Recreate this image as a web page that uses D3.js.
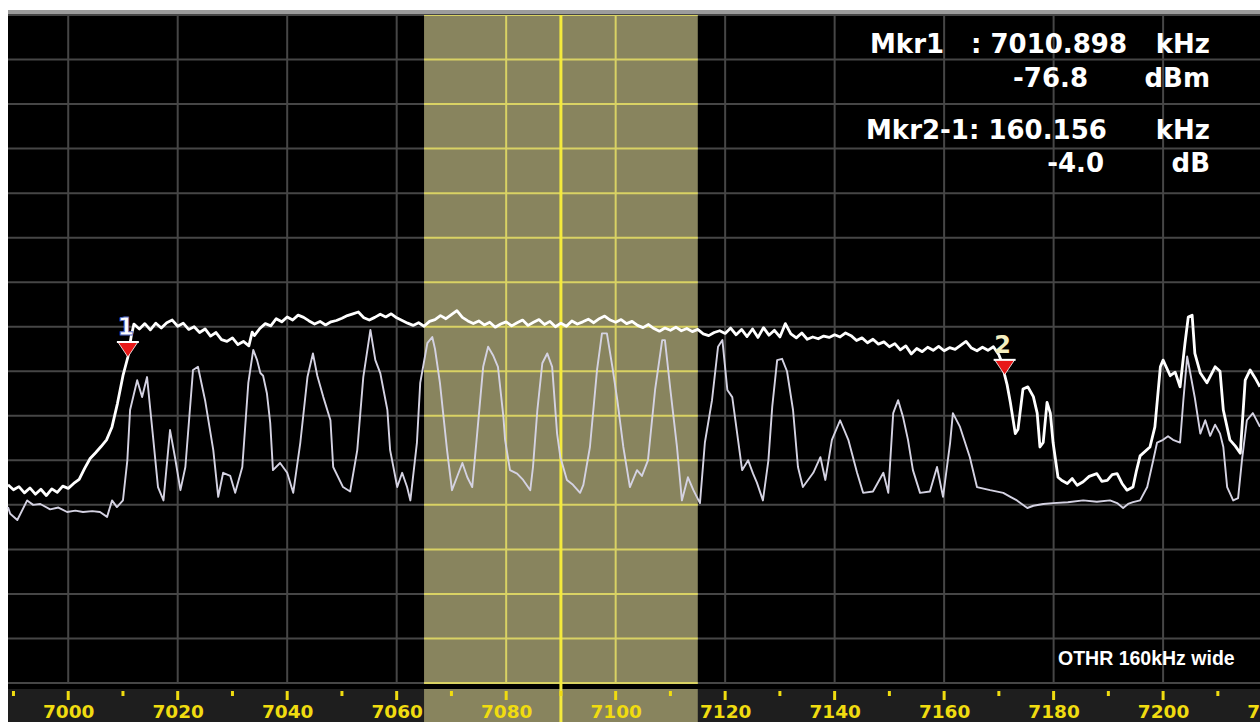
<!DOCTYPE html>
<html>
<head>
<meta charset="utf-8">
<script src="https://cdn.jsdelivr.net/npm/d3@7"></script>
<style>
  html, body { margin: 0; padding: 0; background: #fff; overflow: hidden; }
  svg { display: block; }
</style>
</head>
<body>
<svg id="chart"></svg>
<script>
// peak hold trace (kHz, dBm)
const peakTrace = [
  [6989,-105.5],[6990,-106.6],[6991,-105.9],[6992,-107.3],[6993,-106.2],[6994,-107.6],[6995,-106.5],[6996,-107.9],
  [6997,-106.4],[6998,-107.2],[6999,-105.8],[7000,-106.3],[7001,-105.2],[7002,-104.3],[7003,-101.8],[7004,-99.6],
  [7005,-98.3],[7006,-96.9],[7007,-95.4],[7008,-92.5],[7009,-87.2],[7010,-81.0],[7010.9,-76.8],[7011.5,-72.2],
  [7012,-69.4],[7013,-70.5],[7014,-69.3],[7015,-70.7],[7016,-69.2],[7017,-70.3],[7018,-69.1],[7019,-68.5],
  [7020,-69.9],[7021,-69.2],[7022,-70.6],[7023,-70.0],[7024,-71.3],[7025,-70.5],[7026,-72.1],[7027,-71.3],
  [7028,-72.9],[7029,-73.3],[7030,-72.5],[7031,-74.0],[7032,-73.3],[7033,-74.3],[7033.6,-71.2],[7034,-72.0],
  [7035,-70.4],[7036,-69.3],[7037,-69.8],[7038,-68.2],[7039,-68.9],[7040,-67.8],[7041,-68.5],[7042,-67.4],
  [7043,-67.9],[7044,-68.7],[7045,-69.4],[7046,-68.8],[7047,-69.6],[7048,-68.9],[7049,-68.6],[7050,-68.1],
  [7051,-67.5],[7052,-67.1],[7053,-66.7],[7054,-68.0],[7055,-68.5],[7056,-67.9],[7057,-67.2],[7058,-67.8],
  [7059,-67.1],[7060,-68.0],[7061,-68.6],[7062,-69.2],[7063,-69.7],[7064,-69.1],[7065,-69.9],[7066,-68.8],
  [7067,-68.4],[7068,-67.5],[7069,-68.2],[7070,-67.3],[7071,-66.4],[7072,-67.9],[7073,-68.7],[7074,-69.3],
  [7075,-68.7],[7076,-69.6],[7077,-69.0],[7078,-70.1],[7079,-69.4],[7080,-68.9],[7081,-69.8],[7082,-69.1],
  [7083,-68.5],[7084,-69.7],[7085,-69.0],[7086,-68.4],[7087,-69.5],[7088,-68.8],[7089,-70.0],[7090,-69.2],
  [7091,-69.9],[7092,-68.7],[7093,-69.4],[7094,-68.9],[7095,-68.3],[7096,-69.1],[7097,-68.2],[7098,-67.6],
  [7099,-68.5],[7100,-69.0],[7101,-68.4],[7102,-69.3],[7103,-68.8],[7104,-69.7],[7105,-70.2],[7106,-69.5],
  [7107,-70.4],[7108,-71.0],[7109,-70.3],[7110,-70.8],[7111,-70.1],[7112,-70.9],[7113,-70.4],[7114,-71.1],
  [7115,-70.6],[7116,-71.6],[7117,-72.0],[7118,-71.3],[7119,-70.9],[7120,-71.5],[7121,-70.3],[7122,-71.8],
  [7123,-70.6],[7124,-72.2],[7125,-70.5],[7126,-72.4],[7127,-70.2],[7128,-71.9],[7129,-70.8],[7130,-72.3],
  [7131,-69.3],[7132,-71.6],[7133,-72.5],[7134,-71.4],[7135,-72.8],[7136,-72.3],[7137,-72.7],[7138,-72.1],
  [7139,-72.4],[7140,-71.8],[7141,-72.3],[7142,-71.4],[7143,-72.0],[7144,-73.1],[7145,-72.5],[7146,-73.6],
  [7147,-72.8],[7148,-73.9],[7149,-73.4],[7150,-74.5],[7151,-73.8],[7152,-75.2],[7153,-74.3],[7154,-76.1],
  [7155,-74.9],[7156,-75.6],[7157,-74.6],[7158,-75.3],[7159,-74.4],[7160,-75.4],[7161,-74.7],[7162,-75.1],
  [7163,-74.2],[7164,-73.3],[7165,-74.8],[7166,-75.4],[7167,-74.6],[7168,-75.3],[7169,-74.5],[7170,-76.3],
  [7170.6,-78.2],[7171.05,-80.8],[7171.5,-83.0],[7172.1,-87.0],[7173,-94.0],[7173.5,-93.0],[7174.4,-84.0],
  [7175.3,-83.5],[7176.3,-85.7],[7177,-89.4],[7177.5,-97.0],[7178.1,-96.0],[7178.8,-87.0],[7179.4,-89.4],
  [7179.9,-96.0],[7180.8,-103.8],[7181.6,-104.6],[7182.5,-105.2],[7183.4,-104.1],[7184.3,-105.6],[7185.4,-104.8],
  [7186.5,-103.6],[7187.9,-103.0],[7188.8,-104.7],[7189.8,-104.5],[7190.7,-103.2],[7191.6,-103.0],[7192.5,-105.2],
  [7193.4,-106.7],[7194.5,-106.0],[7195.1,-102.5],[7195.8,-99.0],[7197.6,-97.0],[7198.5,-92.5],[7199.5,-79.0],
  [7200,-77.5],[7201.3,-81.0],[7202.2,-80.2],[7203.1,-83.5],[7204,-73.7],[7204.6,-67.8],[7205.3,-67.4],
  [7205.8,-76.0],[7206.8,-80.4],[7208,-82.6],[7209.5,-79.0],[7210.4,-80.0],[7211,-88.7],[7212.2,-95.4],
  [7213.2,-96.8],[7214.1,-98.4],[7215,-82.0],[7215.9,-79.7],[7216.8,-81.5],[7217.7,-83.5]
];

// live sweep trace (kHz, dBm)
const liveTrace = [
  [6989.0,-110.5],[6989.4,-112],[6990.7,-113.4],[6992.5,-109],[6993.6,-110],[6994.9,-109.8],[6996.7,-111],
  [6998.2,-110.6],[6999.8,-111.6],[7001.3,-111.3],[7002.7,-111.6],[7004.4,-111.4],[7005.8,-111.6],[7007.1,-112.7],
  [7008,-109],[7008.9,-110.5],[7010,-109],[7010.8,-100],[7011.3,-88.7],[7012.6,-82],[7013.5,-85.8],[7014.4,-81.3],
  [7015.5,-94.8],[7016.4,-106],[7017.4,-109],[7018.6,-93.2],[7019.5,-99.3],[7020.5,-106.7],[7021.4,-101.5],
  [7022.8,-79.7],[7023.7,-79],[7025,-86.5],[7026.5,-97.7],[7027.4,-108.2],[7028.3,-102.8],[7029.6,-103.5],
  [7030.5,-107.3],[7031.8,-101.5],[7032.9,-82.6],[7033.8,-75.2],[7034.5,-77.5],[7035.1,-80.4],[7035.6,-81],
  [7036.3,-85],[7036.9,-91.6],[7037.4,-102.2],[7038.7,-100.6],[7040,-102.8],[7041.1,-107.3],[7042.4,-96],
  [7043.7,-81.3],[7044.7,-76],[7045.5,-81],[7046.6,-85.8],[7047.9,-91],[7048.4,-101.5],[7050.2,-106],
  [7051.5,-107],[7052.8,-97.7],[7053.9,-81.3],[7055.2,-70.7],[7056.1,-77.5],[7057,-80.4],[7058.3,-88.7],
  [7058.8,-97.7],[7060.1,-106],[7061,-102.8],[7061.9,-106],[7062.5,-109],[7063.7,-96],[7064.3,-82.6],
  [7065.6,-73.7],[7066.5,-72.3],[7067,-75],[7067.9,-82.6],[7069.2,-97.7],[7070.1,-106.7],[7071,-103.8],
  [7072,-100.6],[7072.9,-103.8],[7073.8,-106],[7074.7,-94],[7075.8,-79],[7076.7,-74.5],[7077.6,-76.4],
  [7078.5,-79],[7079.5,-90.3],[7079.8,-95.4],[7080.7,-102.2],[7082,-103],[7083.1,-104.4],[7084.4,-106.7],
  [7084.9,-101.5],[7085.7,-88.7],[7086.6,-78.2],[7087.5,-76],[7088.4,-79],[7089.3,-94],[7089.9,-99.3],
  [7091.1,-104.4],[7092.2,-105.5],[7093.5,-107.3],[7094.1,-105.5],[7095.3,-97],[7096.6,-79.7],[7097.5,-71.5],
  [7098.4,-71.5],[7099.4,-79],[7100.3,-86.5],[7101.4,-97],[7102.6,-106],[7103.9,-102.2],[7104.8,-103.5],
  [7105.9,-100],[7107.2,-84.2],[7108.5,-73],[7109,-73],[7110,-84.2],[7111.2,-97],[7112.1,-109],[7113.2,-103.8],
  [7114.2,-106.7],[7115.4,-109.6],[7116.3,-96],[7117.6,-86.5],[7118.7,-74.5],[7119.5,-73],[7120.4,-84.2],
  [7121.3,-85.8],[7122.2,-94],[7123.1,-102.2],[7124.2,-100],[7125.1,-103],[7125.8,-105],[7126.9,-109],
  [7127.9,-100],[7128.6,-88],[7129.5,-77.5],[7130.4,-77.2],[7131.3,-80],[7132.4,-88.7],[7133.3,-101.5],
  [7134.2,-106],[7136.1,-102.8],[7137.4,-99.3],[7138.3,-104.4],[7139.5,-95.4],[7141,-91],[7142.5,-95.4],
  [7144.1,-102.8],[7145.2,-107.3],[7147,-107],[7148.9,-102.8],[7149.8,-107.3],[7150.7,-89.4],[7151.6,-86.5],
  [7152.5,-90.3],[7153.4,-95.4],[7154.3,-102.2],[7155.6,-107.3],[7157.4,-107],[7158.7,-101.5],[7159.8,-108.2],
  [7161.1,-96],[7161.6,-89.4],[7162.9,-92.5],[7164.7,-99.3],[7166,-106],[7168.4,-106.7],[7170.8,-107.3],
  [7172.1,-108.2],[7173.3,-109],[7175.2,-110.7],[7176.3,-110.2],[7178.1,-109.8],[7179.9,-109.6],[7182.6,-109.4],
  [7185.4,-109],[7187.9,-109.3],[7190.3,-109],[7191.6,-109.6],[7192.7,-110.7],[7193.6,-109.8],[7194.5,-109.4],
  [7195.8,-109],[7197.1,-106],[7198.2,-100],[7198.9,-96],[7200,-95.4],[7200.9,-94.6],[7201.8,-95.4],
  [7203.1,-96],[7203.7,-86.5],[7204.4,-76.7],[7204.9,-80],[7205.8,-86],[7206.8,-94],[7207.7,-91],[7208.6,-94.5],
  [7209.5,-92],[7210.4,-94],[7211,-97],[7211.7,-106],[7212.8,-109],[7213.7,-108.5],[7214.4,-100],[7215.3,-91],
  [7216.4,-89.4],[7217.7,-92.5]
];

const freqTicks = [7000, 7020, 7040, 7060, 7080, 7100, 7120, 7140, 7160, 7180, 7200, 7220];
const minorTicks = [6990, 7010, 7030, 7050, 7070, 7090, 7110, 7130, 7150, 7170, 7190, 7210];
const levelTicks = [0, -10, -20, -30, -40, -50, -60, -70, -80, -90, -100, -110, -120, -130, -140, -150];

const filterBand = [7065, 7115];
const centerFreq = 7090;

const markers = [
  { label: "1", freq: 7010.898, level: -76.8 },
  { label: "2", freq: 7171.054, level: -80.8 }
];
const readout = [
  { name: "Mkr1", sep: ": 7010.898", value: "-76.8", unit1: "kHz", unit2: "dBm" },
  { name: "Mkr2-1", sep: ": 160.156", value: "-4.0", unit1: "kHz", unit2: "dB" }
];
const note = "OTHR 160kHz wide";

const width = 1260;
const height = 722;
const plot = { left: 8, right: 1260, top: 15, bottom: 683 };

const svg = d3.select("#chart").attr("width", width).attr("height", height);

const x = d3.scaleLinear().domain([6989, 7217.7]).range([plot.left, plot.right]);
const y = d3.scaleLinear().domain([-150, 0]).range([plot.bottom, plot.top]);

// frame
svg.append("rect").attr("x", plot.left).attr("y", 10).attr("width", width - plot.left).attr("height", 6).attr("fill", "#9c9c9c");
svg.append("rect").attr("x", plot.left).attr("y", plot.top).attr("width", plot.right - plot.left).attr("height", height - plot.top).attr("fill", "#000");
svg.append("rect").attr("x", plot.left).attr("y", 689).attr("width", plot.right - plot.left).attr("height", height - 689).attr("fill", "#1e1e1e");

const drawGrid = (g, color) => {
  g.selectAll("line.v")
    .data(freqTicks)
    .enter()
    .append("line")
    .attr("x1", (d) => x(d)).attr("x2", (d) => x(d))
    .attr("y1", plot.top).attr("y2", plot.bottom)
    .attr("stroke", color).attr("stroke-width", 2);
  g.selectAll("line.h")
    .data(levelTicks)
    .enter()
    .append("line")
    .attr("x1", plot.left).attr("x2", plot.right)
    .attr("y1", (d) => y(d)).attr("y2", (d) => y(d))
    .attr("stroke", color).attr("stroke-width", 2);
};

drawGrid(svg.append("g").attr("id", "grid"), "#464646");

// filter passband
svg.append("defs").append("clipPath").attr("id", "band-clip")
  .append("rect")
  .attr("x", x(filterBand[0])).attr("y", plot.top)
  .attr("width", x(filterBand[1]) - x(filterBand[0])).attr("height", height - plot.top);

svg.append("rect")
  .attr("x", x(filterBand[0])).attr("y", plot.top)
  .attr("width", x(filterBand[1]) - x(filterBand[0])).attr("height", height - plot.top)
  .attr("fill", "#88845e");

drawGrid(svg.append("g").attr("clip-path", "url(#band-clip)"), "#d9d264");

// strip between plot and scale
svg.append("rect").attr("x", plot.left).attr("y", 684).attr("width", plot.right - plot.left).attr("height", 5).attr("fill", "#000");

svg.append("line")
  .attr("x1", x(centerFreq)).attr("x2", x(centerFreq))
  .attr("y1", plot.top).attr("y2", height)
  .attr("stroke", "#f4ea3c").attr("stroke-width", 3);

// traces
const line = d3.line().x((d) => x(d[0])).y((d) => y(d[1]));

svg.append("path")
  .datum(liveTrace)
  .attr("d", line)
  .attr("fill", "none")
  .attr("stroke", "#d4d2e2")
  .attr("stroke-width", 1.9)
  .attr("stroke-linejoin", "round");

svg.append("path")
  .datum(peakTrace)
  .attr("d", line)
  .attr("fill", "none")
  .attr("stroke", "#ffffff")
  .attr("stroke-width", 2.8)
  .attr("stroke-linejoin", "round");

// markers
const mk = svg.selectAll("g.marker")
  .data(markers)
  .enter()
  .append("g")
  .attr("class", "marker")
  .attr("transform", (d) => `translate(${x(d.freq)},${y(d.level)})`);

mk.append("path")
  .attr("d", "M-10,-15 L10,-15 L0,0 Z")
  .attr("fill", "#e81818")
  .attr("stroke", "#fff")
  .attr("stroke-width", 0.8);

mk.append("line")
  .attr("x1", -11).attr("x2", 11).attr("y1", -15).attr("y2", -15)
  .attr("stroke", "#fff").attr("stroke-width", 2);

mk.append("text")
  .attr("x", -2)
  .attr("y", -22)
  .attr("text-anchor", "middle")
  .attr("font-family", "DejaVu Sans, sans-serif")
  .attr("font-weight", "bold")
  .attr("font-size", 24)
  .attr("fill", (d, i) => (i === 0 ? "#ffffff" : "#f4eec0"))
  .attr("stroke", (d, i) => (i === 0 ? "#5a6cc0" : "none"))
  .attr("stroke-width", 0.8)
  .text((d) => d.label);

// marker readout
const rt = svg.append("g")
  .attr("font-family", "DejaVu Sans, Verdana, sans-serif")
  .attr("font-weight", "bold")
  .attr("font-size", 26)
  .attr("fill", "#fff");

const rowY = [53, 87, 139, 172];
readout.forEach((r, i) => {
  rt.append("text").attr("x", i === 0 ? 870 : 866).attr("y", rowY[i * 2]).text(i === 0 ? r.name : r.name + r.sep);
  if (i === 0) rt.append("text").attr("x", 1127).attr("y", rowY[0]).attr("text-anchor", "end").text(r.sep);
  rt.append("text").attr("x", 1210).attr("y", rowY[i * 2]).attr("text-anchor", "end").text(r.unit1);
  rt.append("text").attr("x", i === 0 ? 1088 : 1104).attr("y", rowY[i * 2 + 1]).attr("text-anchor", "end").text(r.value);
  rt.append("text").attr("x", 1210).attr("y", rowY[i * 2 + 1]).attr("text-anchor", "end").text(r.unit2);
});

svg.append("text")
  .attr("x", 1058)
  .attr("y", 665)
  .attr("font-family", "Liberation Sans, Arial, sans-serif")
  .attr("font-weight", "bold")
  .attr("font-size", 19.5)
  .attr("fill", "#fff")
  .text(note);

// frequency scale
const xAxis = d3.axisBottom(x).tickValues(freqTicks).tickSize(0).tickPadding(0).tickFormat(d3.format("d"));

const axisG = svg.append("g")
  .attr("id", "x-axis")
  .attr("transform", `translate(0, 718)`)
  .call(xAxis);

axisG.select(".domain").remove();
axisG.selectAll("text")
  .attr("dy", 0)
  .attr("fill", "#f0dc10")
  .attr("font-family", "DejaVu Sans, Verdana, sans-serif")
  .attr("font-weight", "bold")
  .attr("font-size", 18.5);

svg.selectAll("line.major")
  .data(freqTicks)
  .enter()
  .append("line")
  .attr("class", "major")
  .attr("x1", (d) => x(d)).attr("x2", (d) => x(d))
  .attr("y1", 691).attr("y2", 700)
  .attr("stroke", "#f0dc10").attr("stroke-width", 3);

svg.selectAll("rect.minor")
  .data(minorTicks)
  .enter()
  .append("rect")
  .attr("class", "minor")
  .attr("x", (d) => x(d) - 1.5).attr("y", 691)
  .attr("width", 3).attr("height", 5)
  .attr("fill", "#f0dc10");
</script>
</body>
</html>
